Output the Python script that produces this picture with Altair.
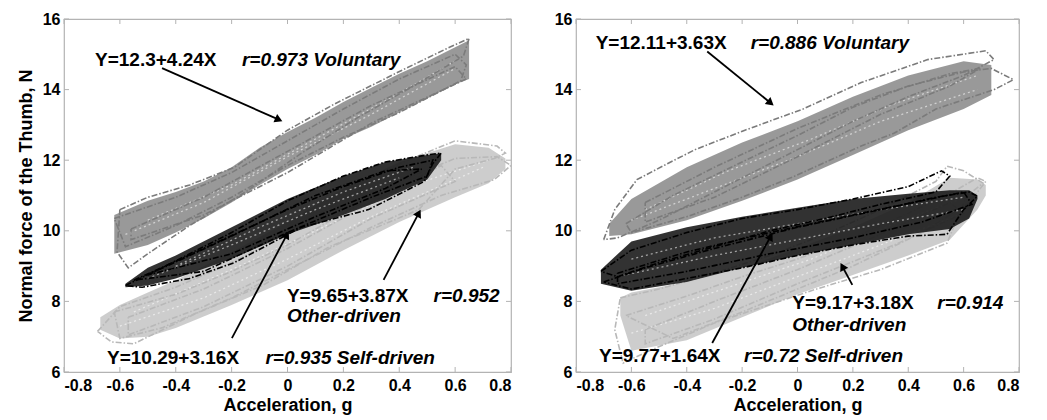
import math
import altair as alt
import pandas as pd

FONT = "Liberation Sans"
PH = 353
PW_LEFT = 447
PW_RIGHT = 443
X_TICKS = [-0.8, -0.6, -0.4, -0.2, 0, 0.2, 0.4, 0.6, 0.8]
Y_TICKS = [6, 8, 10, 12, 14, 16]
SERIES = ["Voluntary", "Other-driven", "Self-driven"]
LINE_COLORS = ["#7b7b7b", "#b8b8b8", "#000000"]
FILL_COLORS = ["#8e8e8e", "#c8c8c8", "#1c1c1c"]

# ---------------- dense bands (x, lower, upper) ----------------
L_VOL_X = [-0.62, -0.5, -0.4, -0.3, -0.2, -0.1, 0.0, 0.1, 0.2, 0.3, 0.4, 0.5, 0.6, 0.65]
L_VOL_LO = [9.35, 9.6, 9.95, 10.35, 10.8, 11.3, 11.75, 12.15, 12.6, 12.95, 13.35, 13.75, 14.15, 14.3]
L_VOL_HI = [10.45, 10.85, 11.1, 11.4, 11.8, 12.35, 12.8, 13.2, 13.65, 14.05, 14.45, 14.8, 15.2, 15.4]

L_OTH_X = [-0.67, -0.6, -0.5, -0.4, -0.2, 0.0, 0.2, 0.4, 0.6, 0.72, 0.78]
L_OTH_LO = [7.2, 6.95, 7.0, 7.25, 7.9, 8.6, 9.45, 10.25, 10.95, 11.35, 11.75]
L_OTH_HI = [7.55, 7.9, 8.25, 8.6, 9.4, 10.25, 11.2, 11.95, 12.45, 12.35, 12.05]

L_SELF_X = [-0.58, -0.5, -0.4, -0.2, 0.0, 0.2, 0.35, 0.5, 0.55]
L_SELF_LO = [8.4, 8.45, 8.65, 9.2, 9.9, 10.45, 10.9, 11.45, 12.0]
L_SELF_HI = [8.5, 8.95, 9.3, 10.1, 10.9, 11.55, 11.95, 12.15, 12.2]

R_VOL_X = [-0.68, -0.6, -0.4, -0.2, 0.0, 0.2, 0.4, 0.6, 0.7]
R_VOL_LO = [9.85, 9.9, 10.3, 10.85, 11.45, 12.15, 12.85, 13.45, 13.85]
R_VOL_HI = [10.2, 10.9, 11.8, 12.5, 13.1, 13.8, 14.4, 14.8, 14.7]

R_OTH_X = [-0.64, -0.6, -0.4, -0.2, 0.0, 0.2, 0.4, 0.55, 0.65, 0.68]
R_OTH_LO = [7.6, 6.6, 6.9, 7.55, 8.2, 8.75, 9.3, 9.75, 10.6, 11.0]
R_OTH_HI = [8.1, 8.25, 8.55, 8.95, 9.5, 10.1, 10.8, 11.5, 11.45, 11.3]

R_SELF_X = [-0.71, -0.6, -0.4, -0.2, 0.0, 0.2, 0.4, 0.55, 0.62, 0.65]
R_SELF_LO = [8.5, 8.3, 8.55, 8.95, 9.3, 9.6, 9.9, 10.05, 10.35, 10.9]
R_SELF_HI = [8.9, 9.7, 10.1, 10.4, 10.65, 10.9, 11.05, 11.15, 11.15, 11.0]

# ---------------- dash-dot loops (x list, y list) ----------------
L_VOL_LOOPS = [
    ([-0.60, -0.50, -0.35, -0.19, 0.00, 0.17, 0.41, 0.58, 0.65, 0.63, 0.45, 0.25, 0.05, -0.15, -0.35, -0.50, -0.57, -0.61, -0.60],
     [10.60, 10.95, 11.30, 11.80, 12.85, 13.60, 14.55, 15.20, 15.45, 14.95, 14.10, 13.20, 12.20, 11.10, 10.15, 9.35, 8.95, 9.40, 10.60]),
    ([-0.62, -0.40, -0.20, 0.00, 0.20, 0.40, 0.60, 0.64, 0.62, 0.40, 0.20, 0.00, -0.20, -0.40, -0.58, -0.62],
     [10.35, 10.95, 11.65, 12.55, 13.45, 14.30, 15.00, 14.70, 14.25, 13.35, 12.65, 11.85, 10.95, 10.15, 9.55, 10.35]),
    ([-0.56, -0.30, 0.00, 0.30, 0.60, 0.64, 0.30, 0.00, -0.30, -0.56, -0.56],
     [10.05, 10.95, 12.25, 13.55, 14.65, 14.30, 13.05, 11.65, 10.45, 9.75, 10.05]),
]
L_OTH_LOOPS = [
    ([-0.68, -0.60, -0.40, -0.20, 0.00, 0.20, 0.40, 0.60, 0.75, 0.78, 0.74, 0.60, 0.47, 0.38, 0.15, -0.09, -0.33, -0.55, -0.63, -0.68],
     [7.15, 7.85, 8.40, 9.10, 9.90, 10.90, 11.90, 12.55, 12.40, 12.20, 12.05, 11.75, 10.60, 10.30, 9.55, 8.45, 7.65, 6.80, 6.85, 7.15]),
    ([-0.62, -0.40, -0.20, 0.00, 0.20, 0.40, 0.60, 0.75, 0.80, 0.74, 0.55, 0.30, 0.05, -0.20, -0.45, -0.60, -0.62],
     [7.70, 8.20, 8.85, 9.60, 10.50, 11.40, 12.05, 12.10, 11.85, 11.45, 11.00, 10.10, 9.10, 8.10, 7.25, 6.95, 7.70]),
    ([-0.57, -0.30, 0.00, 0.30, 0.55, 0.60, 0.30, 0.00, -0.30, -0.57, -0.57],
     [7.55, 8.35, 9.50, 10.80, 11.85, 11.40, 10.35, 9.00, 7.85, 7.05, 7.55]),
]
L_SELF_LOOPS = [
    ([-0.58, -0.45, -0.20, 0.00, 0.20, 0.35, 0.50, 0.55, 0.52, 0.49, 0.29, 0.05, -0.19, -0.35, -0.52, -0.58],
     [8.45, 8.95, 9.95, 10.85, 11.55, 11.95, 12.15, 12.20, 11.90, 11.40, 10.60, 10.10, 9.10, 8.65, 8.40, 8.45]),
    ([-0.55, -0.30, 0.00, 0.20, 0.40, 0.52, 0.50, 0.30, 0.00, -0.30, -0.55],
     [8.60, 9.50, 10.60, 11.25, 11.80, 12.00, 11.55, 10.95, 9.95, 8.85, 8.60]),
    ([-0.50, -0.20, 0.10, 0.35, 0.48, 0.35, 0.10, -0.20, -0.50],
     [8.75, 9.85, 11.00, 11.70, 11.75, 11.20, 10.40, 9.35, 8.75]),
]
R_VOL_LOOPS = [
    ([-0.70, -0.66, -0.58, -0.47, -0.37, -0.19, 0.02, 0.23, 0.47, 0.68, 0.71, 0.60, 0.40, 0.20, 0.00, -0.25, -0.50, -0.65, -0.70],
     [9.75, 10.60, 11.45, 11.90, 12.30, 12.85, 13.45, 14.20, 14.85, 15.10, 14.85, 14.40, 13.80, 13.10, 12.30, 11.30, 10.30, 9.80, 9.75]),
    ([-0.62, -0.45, -0.20, 0.00, 0.20, 0.40, 0.60, 0.70, 0.78, 0.71, 0.50, 0.35, 0.23, -0.01, -0.20, -0.40, -0.60, -0.62],
     [10.20, 11.00, 11.95, 12.70, 13.50, 14.10, 14.50, 14.60, 14.28, 14.00, 13.45, 12.77, 12.40, 11.55, 10.95, 10.40, 9.95, 10.20]),
    ([-0.55, -0.30, 0.00, 0.30, 0.55, 0.66, 0.55, 0.30, 0.00, -0.30, -0.55, -0.55],
     [10.80, 11.80, 12.90, 13.85, 14.45, 14.60, 14.10, 13.30, 12.10, 10.95, 10.25, 10.80]),
]
R_OTH_LOOPS = [
    ([-0.64, -0.50, -0.30, -0.10, 0.10, 0.30, 0.50, 0.54, 0.60, 0.67, 0.61, 0.54, 0.30, 0.06, -0.30, -0.55, -0.63, -0.66, -0.64],
     [8.10, 8.35, 8.80, 9.30, 9.90, 10.60, 11.40, 11.83, 11.70, 11.35, 10.98, 9.65, 8.90, 8.33, 7.39, 6.55, 6.25, 7.20, 8.10]),
    ([-0.62, -0.40, -0.20, 0.00, 0.20, 0.40, 0.55, 0.65, 0.68, 0.62, 0.45, 0.20, 0.00, -0.20, -0.45, -0.62],
     [7.60, 8.15, 8.70, 9.20, 9.80, 10.50, 11.05, 11.50, 11.40, 10.80, 9.95, 9.00, 8.35, 7.70, 6.95, 7.60]),
    ([-0.55, -0.30, 0.00, 0.30, 0.55, 0.60, 0.35, 0.00, -0.30, -0.55, -0.55],
     [7.20, 8.00, 8.90, 9.90, 10.80, 10.50, 9.60, 8.50, 7.50, 6.80, 7.20]),
]
R_SELF_LOOPS = [
    ([-0.71, -0.60, -0.40, -0.20, 0.00, 0.20, 0.40, 0.52, 0.55, 0.50, 0.30, 0.10, -0.10, -0.30, -0.50, -0.65, -0.71],
     [8.85, 9.45, 9.95, 10.35, 10.60, 10.90, 11.25, 11.70, 11.55, 11.10, 10.75, 10.35, 10.00, 9.55, 9.10, 8.70, 8.85]),
    ([-0.70, -0.55, -0.30, 0.00, 0.30, 0.50, 0.62, 0.65, 0.60, 0.54, 0.40, 0.20, 0.00, -0.20, -0.40, -0.60, -0.70],
     [8.55, 8.95, 9.50, 10.10, 10.60, 10.95, 11.10, 10.98, 10.60, 9.90, 9.85, 9.60, 9.30, 8.95, 8.65, 8.35, 8.55]),
    ([-0.65, -0.40, -0.10, 0.20, 0.45, 0.60, 0.63, 0.45, 0.20, -0.10, -0.40, -0.65, -0.65],
     [8.80, 9.40, 9.95, 10.45, 10.85, 11.10, 10.75, 10.25, 9.80, 9.35, 8.85, 8.50, 8.80]),
]

# ---------------- light streaks seen inside the dense bands ----------------
L_VOL_STREAKS = [([-0.58, -0.3, 0.0, 0.3, 0.6], [9.9, 10.8, 12.1, 13.3, 14.6]),
                 ([-0.5, -0.2, 0.1, 0.4, 0.62], [10.3, 11.3, 12.6, 13.9, 14.9])]
L_OTH_STREAKS = [([-0.6, -0.3, 0.0, 0.3, 0.7], [7.3, 8.1, 9.2, 10.4, 11.8]),
                 ([-0.55, -0.2, 0.1, 0.45, 0.72], [7.7, 8.9, 10.0, 11.3, 12.0])]
L_SELF_STREAKS = [([-0.5, -0.2, 0.1, 0.4], [8.65, 9.6, 10.6, 11.5]),
                  ([-0.4, -0.1, 0.2, 0.45], [9.0, 10.1, 11.1, 11.8])]
R_VOL_STREAKS = [([-0.6, -0.3, 0.0, 0.3, 0.65], [10.3, 11.2, 12.1, 13.1, 14.0]),
                 ([-0.55, -0.25, 0.05, 0.35, 0.65], [10.6, 11.7, 12.6, 13.6, 14.4])]
R_OTH_STREAKS = [([-0.6, -0.3, 0.0, 0.3, 0.6], [7.1, 7.8, 8.7, 9.6, 10.5]),
                 ([-0.55, -0.25, 0.05, 0.35, 0.62], [7.6, 8.4, 9.2, 10.2, 11.0])]
R_SELF_STREAKS = [([-0.65, -0.3, 0.0, 0.3, 0.6], [8.7, 9.3, 9.75, 10.2, 10.6]),
                  ([-0.6, -0.3, 0.0, 0.3, 0.6], [9.2, 9.8, 10.2, 10.6, 10.95])]

# ---------------- annotations ----------------
L_TXT = ["Y=12.3+4.24X", "r=0.973 Voluntary", "Y=9.65+3.87X", "r=0.952", "Other-driven",
         "Y=10.29+3.16X", "r=0.935 Self-driven"]
L_TXT_X = [-0.689, -0.163, -0.002, 0.523, -0.002, -0.646, -0.079]
L_TXT_Y = [14.84, 14.84, 8.14, 8.14, 7.58, 6.40, 6.40]
L_TXT_IT = [False, True, False, True, True, False, True]
L_ARR_X0 = [-0.449, 0.344, -0.199]
L_ARR_Y0 = [14.61, 8.61, 6.96]
L_ARR_X1 = [-0.031, 0.470, -0.002]
L_ARR_Y1 = [13.15, 10.50, 9.89]

R_TXT = ["Y=12.11+3.63X", "r=0.886 Voluntary", "Y=9.17+3.18X", "r=0.914", "Other-driven",
         "Y=9.77+1.64X", "r=0.72 Self-driven"]
R_TXT_X = [-0.729, -0.169, -0.019, 0.505, -0.019, -0.717, -0.193]
R_TXT_Y = [15.32, 15.32, 7.95, 7.95, 7.34, 6.44, 6.44]
R_TXT_IT = [False, True, False, True, True, False, True]
R_ARR_X0 = [-0.326, 0.198, -0.308]
R_ARR_Y0 = [15.08, 8.47, 6.82]
R_ARR_X1 = [-0.097, 0.162, -0.097]
R_ARR_Y1 = [13.62, 8.99, 9.84]


def band_df(xs, lo, hi):
    return pd.DataFrame({"x": xs, "lo": lo, "hi": hi})


def loops_df(loops):
    rows = []
    for k, (xs, ys) in enumerate(loops):
        for i, (a, b) in enumerate(zip(xs, ys)):
            rows.append({"loop": k, "i": i, "x": a, "y": b})
    return pd.DataFrame(rows)


def panel(width, bands, loops, streaks, txt, tx, ty, tit, ax0, ay0, ax1, ay1, ytitle):
    xsc = alt.Scale(domain=[-0.8, 0.8], nice=False, zero=False)
    ysc = alt.Scale(domain=[6, 16], nice=False, zero=False)
    xaxis = alt.Axis(values=X_TICKS, title="Acceleration, g",
                     labelExpr="abs(datum.value) < 1e-9 ? '0' : replace(format(datum.value, '.1f'), '\u2212', '-')",
                     labelPadding=5, titlePadding=3)
    yaxis = alt.Axis(values=Y_TICKS, format="d", title=ytitle, labelPadding=4, titlePadding=7)

    def X(f):
        return alt.X(f, scale=xsc, axis=xaxis)

    def Y(f):
        return alt.Y(f, scale=ysc, axis=yaxis)

    layers = []
    for s in range(3):
        bdf = band_df(*bands[s])
        layers.append(alt.Chart(bdf).mark_area(color=FILL_COLORS[s], opacity=0.9).encode(
            x=X("x:Q"), y=Y("lo:Q"), y2="hi:Q"))
        sdf = loops_df(streaks[s])
        layers.append(
            alt.Chart(sdf).mark_line(color="white", strokeWidth=1.3, opacity=0.55,
                                     strokeDash=[2, 3], clip=True).encode(
                x=X("x:Q"), y=Y("y:Q"), order="i:Q", detail="loop:N",
            )
        )
        ldf = loops_df(loops[s])
        layers.append(
            alt.Chart(ldf).mark_line(color=LINE_COLORS[s], strokeWidth=1.6,
                                     strokeDash=[6, 2, 1.5, 2], clip=True).encode(
                x=X("x:Q"), y=Y("y:Q"), order="i:Q", detail="loop:N",
            )
        )

    # annotation text
    tdf = pd.DataFrame({"t": txt, "x": tx, "y": ty, "it": tit})
    for italic in (False, True):
        sub = tdf[tdf["it"] == italic]
        kw = dict(align="left", baseline="middle", font=FONT, fontSize=19,
                  fontWeight="bold", color="black")
        if italic:
            kw["fontStyle"] = "italic"
        layers.append(alt.Chart(sub).mark_text(**kw).encode(
            x=X("x:Q"), y=Y("y:Q"), text="t:N"))

    # arrows
    kx = width / 1.6
    ky = PH / 10.0
    ang = []
    for a, b, c, d in zip(ax0, ay0, ax1, ay1):
        dxp = (c - a) * kx
        dyp = -(d - b) * ky
        ang.append(math.degrees(math.atan2(dxp, -dyp)) % 360)
    adf = pd.DataFrame({"x0": ax0, "y0": ay0, "x1": ax1, "y1": ay1, "ang": ang})
    layers.append(alt.Chart(adf).mark_rule(color="black", strokeWidth=1.8).encode(
        x=X("x0:Q"), y=Y("y0:Q"), x2="x1:Q", y2="y1:Q"))
    layers.append(alt.Chart(adf).mark_point(shape="triangle-up", filled=True, size=80,
                                            color="black", opacity=1).encode(
        x=X("x1:Q"), y=Y("y1:Q"), angle=alt.Angle("ang:Q", scale=None)))

    # inward ticks (MATLAB style box)
    xt = pd.DataFrame({"v": X_TICKS})
    yt = pd.DataFrame({"v": Y_TICKS})
    tick_color = "#b3b3b3"
    layers.append(alt.Chart(xt).mark_rule(color=tick_color).encode(
        x=X("v:Q"), y=alt.value(PH), y2=alt.value(PH - 5)))
    layers.append(alt.Chart(xt).mark_rule(color=tick_color).encode(
        x=X("v:Q"), y=alt.value(0), y2=alt.value(5)))
    layers.append(alt.Chart(yt).mark_rule(color=tick_color).encode(
        y=Y("v:Q"), x=alt.value(0), x2=alt.value(5)))
    layers.append(alt.Chart(yt).mark_rule(color=tick_color).encode(
        y=Y("v:Q"), x=alt.value(width), x2=alt.value(width - 5)))

    return alt.layer(*layers).properties(width=width, height=PH)


left = panel(
    PW_LEFT,
    [(L_VOL_X, L_VOL_LO, L_VOL_HI), (L_OTH_X, L_OTH_LO, L_OTH_HI), (L_SELF_X, L_SELF_LO, L_SELF_HI)],
    [L_VOL_LOOPS, L_OTH_LOOPS, L_SELF_LOOPS],
    [L_VOL_STREAKS, L_OTH_STREAKS, L_SELF_STREAKS],
    L_TXT, L_TXT_X, L_TXT_Y, L_TXT_IT, L_ARR_X0, L_ARR_Y0, L_ARR_X1, L_ARR_Y1,
    "Normal force of the Thumb, N",
)
right = panel(
    PW_RIGHT,
    [(R_VOL_X, R_VOL_LO, R_VOL_HI), (R_OTH_X, R_OTH_LO, R_OTH_HI), (R_SELF_X, R_SELF_LO, R_SELF_HI)],
    [R_VOL_LOOPS, R_OTH_LOOPS, R_SELF_LOOPS],
    [R_VOL_STREAKS, R_OTH_STREAKS, R_SELF_STREAKS],
    R_TXT, R_TXT_X, R_TXT_Y, R_TXT_IT, R_ARR_X0, R_ARR_Y0, R_ARR_X1, R_ARR_Y1,
    None,
)

chart = alt.hconcat(left, right, spacing=40).properties(
    padding={"left": 8, "top": 2, "right": 2, "bottom": 2}
).configure_view(
    stroke="#b3b3b3", strokeWidth=1.2
).configure_axis(
    domain=False, ticks=False, grid=False,
    labelFont=FONT, labelFontSize=16, labelFontWeight="bold", labelColor="black",
    titleFont=FONT, titleFontSize=18, titleFontWeight="bold", titleColor="black",
)

chart.save("out.html", embed_options={"renderer": "svg", "actions": False})
